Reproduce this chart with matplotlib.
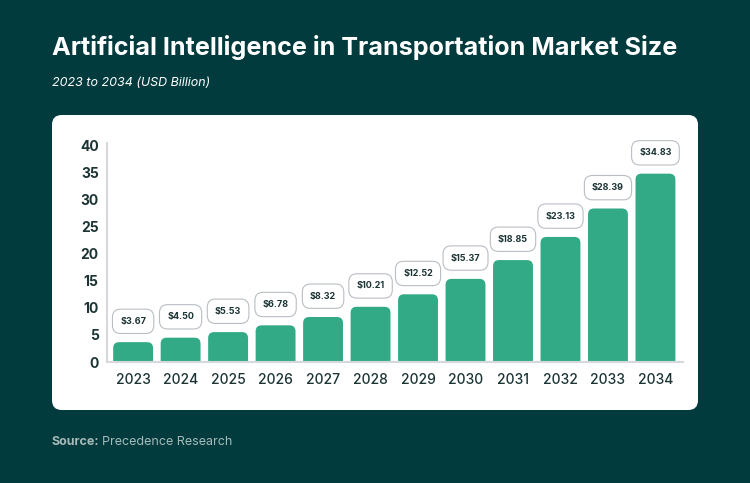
import matplotlib
matplotlib.use("Agg")
import matplotlib.pyplot as plt
from matplotlib.patches import FancyBboxPatch

# data
years = ["2023", "2024", "2025", "2026", "2027", "2028",
         "2029", "2030", "2031", "2032", "2033", "2034"]
values = [3.67, 4.50, 5.53, 6.78, 8.32, 10.21,
          12.52, 15.37, 18.85, 23.13, 28.39, 34.83]
yticks = [0, 5, 10, 15, 20, 25, 30, 35, 40]

bg = "#013b3d"
green = "#31aa85"
dark = "#1c3434"

plt.rcParams["font.family"] = ["Inter", "DejaVu Sans"]

fig = plt.figure(figsize=(7.5, 4.83), dpi=100, facecolor=bg)

# white rounded panel behind the chart
panel = FancyBboxPatch((52 / 750, 73 / 483), 646 / 750, 295 / 483,
                       boxstyle="round,pad=0,rounding_size=0.013",
                       transform=fig.transFigure, facecolor="white",
                       edgecolor="none", mutation_aspect=750 / 483, zorder=-5)
fig.patches.append(panel)

fig.text(52 / 750, 1 - 48 / 483, "Artificial Intelligence in Transportation Market Size",
         color="white", fontsize=18.1, fontweight="bold", va="center", ha="left")
fig.text(52 / 750, 1 - 83 / 483, "2023 to 2034 (USD Billion)",
         color="white", fontsize=9, fontstyle="italic", va="center", ha="left")
src = fig.text(52 / 750, 1 - 442 / 483, "Source:", color="#a8b9b9",
               fontsize=9, fontweight="bold", va="center", ha="left")
fig.canvas.draw()
bb = src.get_window_extent()
fig.text((bb.x1 + 3) / 750, 1 - 442 / 483, "Precedence Research", color="#a8b9b9",
         fontsize=9, va="center", ha="left")

ax = fig.add_axes([107 / 750, 121 / 483, 576 / 750, 219 / 483])
ax.set_facecolor("none")
ax.set_xlim(-0.55, 11.58)
ax.set_ylim(0, 40.5)

x = list(range(len(years)))
bars = ax.bar(x, values, width=0.84, color="none")

# px per data unit, used to keep the rounded corners circular
fig.canvas.draw()
p0 = ax.transData.transform((0, 0))
p1 = ax.transData.transform((1, 1))
px_x = p1[0] - p0[0]
px_y = p1[1] - p0[1]
r = 6 / px_x

for b, v in zip(bars, values):
    rb = FancyBboxPatch((b.get_x(), -2), b.get_width(), v + 2,
                        boxstyle=f"round,pad=0,rounding_size={r}",
                        mutation_aspect=px_x / px_y,
                        facecolor=green, edgecolor="none", clip_on=True)
    ax.add_patch(rb)
    ax.annotate(f"${v:.2f}", (b.get_x() + b.get_width() / 2, v),
                xytext=(0, 15), textcoords="offset points",
                ha="center", va="center", fontsize=6.5, fontweight="bold",
                color=dark,
                bbox=dict(boxstyle="round,pad=0.85,rounding_size=0.9",
                          facecolor="white", edgecolor="#b9bec4", linewidth=0.8))

ax.set_xticks(x)
ax.set_xticklabels(years)
ax.set_yticks(yticks)
for lab in ax.get_yticklabels():
    lab.set_fontweight("bold")
ax.tick_params(axis="both", length=0, colors=dark, labelsize=10)
ax.tick_params(axis="y", pad=6)
ax.tick_params(axis="x", pad=8)
for lab in ax.get_xticklabels():
    lab.set_fontweight("medium")

for s in ["top", "right"]:
    ax.spines[s].set_visible(False)
for s in ["left", "bottom"]:
    ax.spines[s].set_color("#d6d8db")
    ax.spines[s].set_linewidth(1.5)

fig.savefig("out.png", dpi=100, facecolor=bg)
